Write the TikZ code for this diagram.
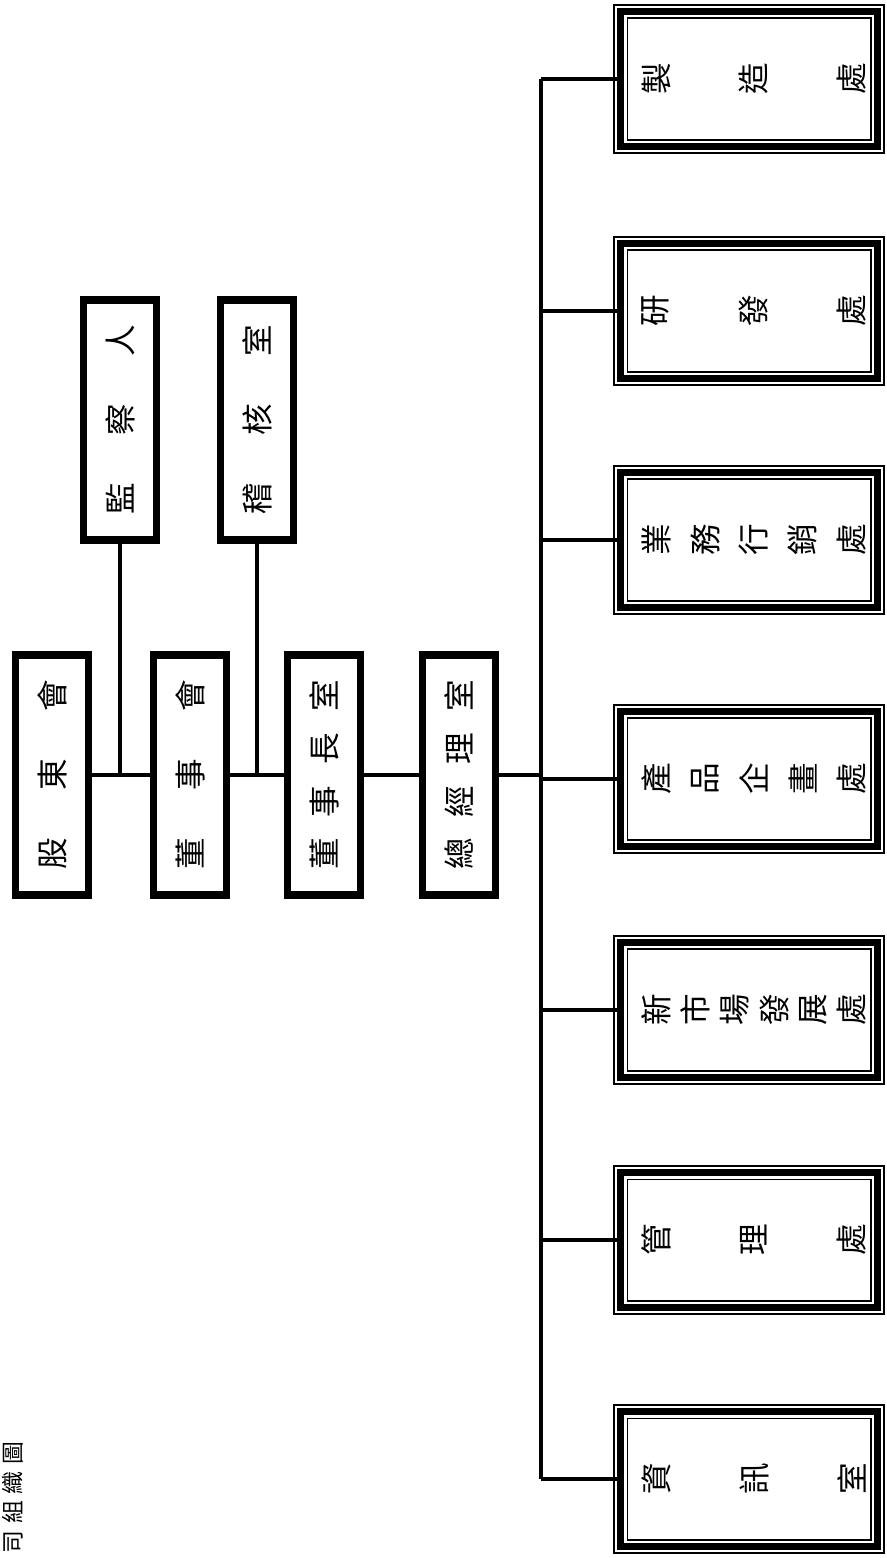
\documentclass[tikz,border=0pt]{standalone}
\usepackage{fontspec}
\setmainfont{Noto Sans CJK TC}
\usepackage{graphicx}
\newcommand\turnch[1]{\rotatebox{90}{#1}}

\begin{document}
\begin{tikzpicture}[x=0.02cm, y=-0.02cm,
  unit/.style={draw, line width=4.5pt, minimum width=1.46cm, minimum height=4.8cm, inner sep=0pt, font=\fontsize{18pt}{20pt}\selectfont},
  dept/.style={draw, line width=4.5pt, minimum width=5.14cm, minimum height=2.7cm, inner sep=0pt, font=\fontsize{18pt}{20pt}\selectfont, preaction={draw, line width=8.5pt}, preaction={draw, white, line width=6.8pt}},
  link/.style={line width=1.8pt}]

\useasboundingbox (0,0) rectangle (886,1558);

\node [unit] (gd) at (52,775) {\turnch{\makebox[3.8cm][s]{股\hfill 東\hfill 會}}};
\node [unit] (dsh) at (190,775) {\turnch{\makebox[3.8cm][s]{董\hfill 事\hfill 會}}};
\node [unit] (dsz) at (324,775) {\turnch{\makebox[3.8cm][s]{董\hfill 事\hfill 長\hfill 室}}};
\node [unit] (zjl) at (459,775) {\turnch{\makebox[3.8cm][s]{總\hfill 經\hfill 理\hfill 室}}};
\node [unit] (jcr) at (120,420) {\turnch{\makebox[3.8cm][s]{監\hfill 察\hfill 人}}};
\node [unit] (jhs) at (257,420) {\turnch{\makebox[3.8cm][s]{稽\hfill 核\hfill 室}}};

\node [dept] (mfg) at (749,79) {\hspace{0.2cm}\makebox[4.5cm][s]{\turnch{製}\hfill\turnch{造}\hfill\turnch{處}}};
\node [dept] (rd) at (749,311) {\hspace{0.2cm}\makebox[4.5cm][s]{\turnch{研}\hfill\turnch{發}\hfill\turnch{處}}};
\node [dept] (sales) at (749,540) {\hspace{0.2cm}\makebox[4.5cm][s]{\turnch{業}\hfill\turnch{務}\hfill\turnch{行}\hfill\turnch{銷}\hfill\turnch{處}}};
\node [dept] (plan) at (749,779) {\hspace{0.2cm}\makebox[4.5cm][s]{\turnch{產}\hfill\turnch{品}\hfill\turnch{企}\hfill\turnch{畫}\hfill\turnch{處}}};
\node [dept] (mkt) at (749,1010) {\hspace{0.2cm}\makebox[4.5cm][s]{\turnch{新}\hfill\turnch{市}\hfill\turnch{場}\hfill\turnch{發}\hfill\turnch{展}\hfill\turnch{處}}};
\node [dept] (adm) at (749,1240) {\hspace{0.2cm}\makebox[4.5cm][s]{\turnch{管}\hfill\turnch{理}\hfill\turnch{處}}};
\node [dept] (info) at (749,1479) {\hspace{0.2cm}\makebox[4.5cm][s]{\turnch{資}\hfill\turnch{訊}\hfill\turnch{室}}};

\node [anchor=north, inner sep=0pt, font=\fontsize{13pt}{15pt}\selectfont] (ttl) at (13,1441) {\turnch{司\hspace{4pt}組\hspace{4pt}織\hspace{4pt}圖}};

\coordinate (bus) at (541,775);

\draw[link] (gd) -- (dsh);
\draw[link] (dsh) -- (dsz);
\draw[link] (dsz) -- (zjl);
\draw[link] (jcr.south) -- (jcr.south |- gd.east);
\draw[link] (jhs.south) -- (jhs.south |- dsh.east);
\draw[link] (zjl.east) -- (bus);
\draw[link] (bus |- mfg.west) -- (bus |- info.west);

\draw[link] (bus |- mfg.west) -- (mfg.west);
\draw[link] (bus |- rd.west) -- (rd.west);
\draw[link] (bus |- sales.west) -- (sales.west);
\draw[link] (bus |- plan.west) -- (plan.west);
\draw[link] (bus |- mkt.west) -- (mkt.west);
\draw[link] (bus |- adm.west) -- (adm.west);
\draw[link] (bus |- info.west) -- (info.west);

\end{tikzpicture}
\end{document}
